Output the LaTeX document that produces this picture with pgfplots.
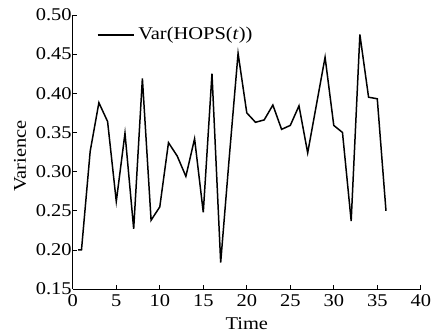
\documentclass[border=0pt]{standalone}
\usepackage{fontspec}
\setmainfont[FakeStretch=1.14]{Liberation Serif}
\usepackage{pgfplots}
\pgfplotsset{compat=1.18}
\begin{document}
\fontsize{18}{22}\selectfont
\begin{tikzpicture}
\begin{axis}[
  at={(0,0)}, anchor=south west,
  scale only axis,
  width=349pt, height=275pt,
  xmin=0, xmax=40, ymin=0.15, ymax=0.50,
  axis x line=bottom, axis y line=left,
  axis line style={-, line width=0.8pt},
  tick align=inside,
  major tick length=4.5pt,
  tick style={line width=0.8pt, black},
  xtick={0,5,...,40},
  ytick={0.15,0.20,...,0.50},
  /pgf/number format/assume math mode=true,
  yticklabel style={/pgf/number format/fixed, /pgf/number format/fixed zerofill, /pgf/number format/precision=2, inner sep=1pt},
  xticklabel style={inner sep=1pt, yshift=-4pt},
  ticklabel style={font=\fontsize{18}{22}\selectfont},
  xlabel={Time}, ylabel={Varience},
  label style={font=\fontsize{18}{22}\selectfont},
  xlabel style={at={(axis description cs:0.5,0)}, anchor=base, yshift=-40pt, inner sep=0pt},
  ylabel style={at={(axis description cs:0,0.5)}, anchor=base, xshift=-4pt, yshift=47pt, inner sep=0pt},
  legend style={draw=none, fill=none, at={(axis description cs:0.069,0.927)}, anchor=west, inner sep=0pt, font=\fontsize{18}{22}\selectfont},
  legend cell align=left,
  legend image code/.code={\draw[line width=1.5pt] (0pt,0pt) -- (36pt,0pt);},
  clip=false,
]
\addplot[black, line width=1.5pt, line join=miter] coordinates {
(0.6,0.200) (1,0.200) (2,0.326) (3,0.388) (4,0.364) (5,0.262) (6,0.349) (7,0.227)
(8,0.419) (9,0.238) (10,0.255) (11,0.337) (12,0.320) (13,0.294) (14,0.342)
(15,0.248) (16,0.425) (17,0.184) (18,0.320) (19,0.451) (20,0.375) (21,0.363)
(22,0.366) (23,0.385) (24,0.354) (25,0.359) (26,0.384) (27,0.324) (28,0.385)
(29,0.446) (30,0.359) (31,0.350) (32,0.237) (33,0.475) (34,0.395) (35,0.393)
(36,0.250)
};
\addlegendentry{\hspace{2pt}Var(HOPS(\textit{t}))}
\end{axis}
\useasboundingbox (-73pt,-46pt) rectangle (359pt,290pt);
\end{tikzpicture}
\end{document}
